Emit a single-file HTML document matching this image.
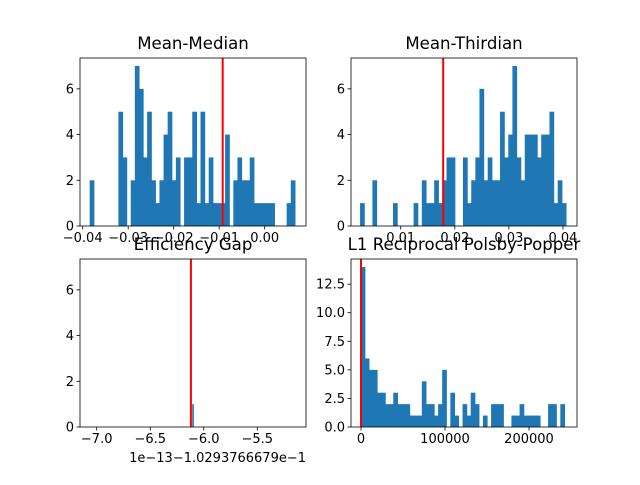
<!DOCTYPE html>
<html><head><meta charset="utf-8"><style>
html,body{margin:0;padding:0;background:#fff;}
svg text{font-family:"DejaVu Sans","Liberation Sans",sans-serif;fill:#000;}
</style></head><body>
<svg id="fig" width="640" height="480" xmlns="http://www.w3.org/2000/svg"></svg>
<script>
// Mean-Median histogram counts (50 bins)
const mmCounts = [2,0,0,0,0,0,0,5,3,0,2,7,6,3,5,2,1,2,4,5,2,3,0,3,3,5,1,5,1,3,1,1,1,4,0,2,3,2,2,3,1,1,1,1,1,0,0,0,1,2];
const mmRange = [-0.0384, 0.0067];
const mmLine = -0.00923;
const mmXTicks = [-0.04,-0.03,-0.02,-0.01,0.00];
const mmXLabels = ["\u22120.04","\u22120.03","\u22120.02","\u22120.01","0.00"];
// Mean-Thirdian
const mtCounts = [1,0,0,2,0,0,0,0,1,0,0,0,0,1,0,2,1,1,2,1,2,3,3,0,0,3,1,2,3,6,2,3,2,2,5,3,4,7,3,2,4,4,4,3,4,4,5,1,2,1];
const mtRange = [0.00254, 0.0406];
const mtLine = 0.01785;
const mtXTicks = [0.01,0.02,0.03,0.04];
const mtXLabels = ["0.01","0.02","0.03","0.04"];
// Efficiency Gap (offset units, 1e-13)
const egCounts = [1];
const egRange = [-6.105, -6.095];
const egLine = -6.12;
const egXTicks = [-7.0,-6.5,-6.0,-5.5];
const egXLabels = ["\u22127.0","\u22126.5","\u22126.0","\u22125.5"];
// L1 Reciprocal Polsby-Popper
const ppCounts = [14,6,5,5,3,3,2,2,3,2,2,2,1,1,1,4,2,2,1,2,5,0,3,1,0,2,1,3,2,0,1,0,2,2,2,0,0,1,1,2,1,1,1,1,0,0,2,2,0,2];
const ppRange = [0, 242500];
const ppLine = 0;
const ppXTicks = [0,100000,200000];
const ppXLabels = ["0","100000","200000"];
const yTicksSmall = [0,2,4,6];
const yLabelsSmall = ["0","2","4","6"];
const yTicksPP = [0,2.5,5,7.5,10,12.5];
const yLabelsPP = ["0.0","2.5","5.0","7.5","10.0","12.5"];

const NS="http://www.w3.org/2000/svg";
const fig=document.getElementById('fig');
function mk(tag,attrs,parent){const e=document.createElementNS(NS,tag);for(const k in attrs)e.setAttribute(k,attrs[k]);(parent||fig).appendChild(e);return e;}

function panel(name,title,box,xdom,ydom,counts,range,line,xt,xl,yt,yl){
  const [L,T,R,B]=box;
  const g=mk('g',{});
  
  
  const xs=v=>L+(v-xdom[0])/(xdom[1]-xdom[0])*(R-L);
  const ys=v=>B-(v-ydom[0])/(ydom[1]-ydom[0])*(B-T);
  const n=counts.length, w=(range[1]-range[0])/n;
  counts.forEach((c,i)=>{
    if(c<=0)return;
    const x0=xs(range[0]+i*w), x1=xs(range[0]+(i+1)*w);
    const r=mk('rect',{x:x0-0.3,y:ys(c),width:Math.max(x1-x0+0.6,1),height:ys(0)-ys(c),fill:'#1f77b4'},g);
    
    
  });
  const ln=mk('line',{x1:xs(line),x2:xs(line),y1:T,y2:B,stroke:'#ff0000','stroke-width':2},g);
  
  
  const fr=mk('rect',{x:L,y:T,width:R-L,height:B-T,fill:'none',stroke:'#000','stroke-width':0.8},g);
  
  
  xt.forEach((v,i)=>{
    const x=xs(v);
    mk('line',{x1:x,x2:x,y1:B,y2:B+3.5,stroke:'#000','stroke-width':0.8},g);
    const t=mk('text',{x:x,y:B+16,'text-anchor':'middle','font-size':'13'},g);
    t.textContent=xl[i];
    
    
  });
  yt.forEach((v,i)=>{
    const y=ys(v);
    mk('line',{x1:L-3.5,x2:L,y1:y,y2:y,stroke:'#000','stroke-width':0.8},g);
    const t=mk('text',{x:L-6,y:y+4.5,'text-anchor':'end','font-size':'13'},g);
    t.textContent=yl[i];
    
    
  });
  const tt=mk('text',{x:(L+R)/2,y:T-9,'text-anchor':'middle','font-size':'16.6'},g);
  tt.textContent=title;
  
  
  return g;
}
panel('mean-median','Mean-Median',[80,58,306,226],[-0.040593,0.009077],[0,7.35],mmCounts,mmRange,mmLine,mmXTicks,mmXLabels,yTicksSmall,yLabelsSmall);
panel('mean-thirdian','Mean-Thirdian',[351,58,577,226],[0.00081,0.04259],[0,7.35],mtCounts,mtRange,mtLine,mtXTicks,mtXLabels,yTicksSmall,yLabelsSmall);
panel('efficiency-gap','Efficiency Gap',[80,259,306,427],[-7.156,-5.045],[0,7.35],egCounts,egRange,egLine,egXTicks,egXLabels,yTicksSmall,yLabelsSmall);
panel('polsby-popper','L1 Reciprocal Polsby-Popper',[351,259,577,427],[-11905,257143],[0,14.7],ppCounts,ppRange,ppLine,ppXTicks,ppXLabels,yTicksPP,yLabelsPP);
const off=mk('text',{x:306,y:462,'text-anchor':'end','font-size':'13'});
off.textContent='1e\u221213\u22121.0293766679e\u22121';


</script>
</body></html>
